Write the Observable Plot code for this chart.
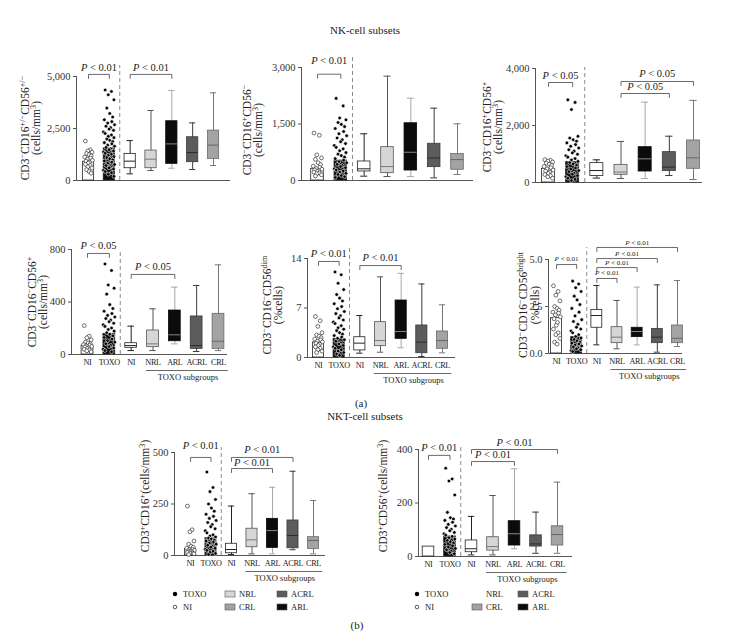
<!DOCTYPE html>
<html><head><meta charset="utf-8">
<script src="https://cdn.jsdelivr.net/npm/d3@7"></script>
<script src="https://cdn.jsdelivr.net/npm/@observablehq/plot@0.6"></script>
<style>
body{margin:0;background:#fff;}
#fig{position:relative;width:730px;height:642px;overflow:hidden;background:#fff;}
#fig svg{position:absolute;left:0;top:0;}
</style></head><body><div id="fig"></div>
<script>
// ---------- data ----------
const catLabels = ["NI","TOXO","NI","NRL","ARL","ACRL","CRL"];
const boxGroups = ["NI","NRL","ARL","ACRL","CRL"];

// Panel 1: CD3-CD16+/-CD56+/-
const nk1Ticks = [0, 2500, 5000];
const nk1Bars = [900, 1550];
const nk1NI = [1900,1480,1420,1360,1300,1240,1180,1130,1080,1020,970,930,880,840,780,720,660,600,520,430,350];
const nk1TOXO = [4350,4280,4120,3880,3480,3220,3050,2920,2830,2760,2680,2610,2540,2470,2410,2330,2260,2190,2120,2060,1990,1930,1870,1820,1760,1700,1650,1590,1530,1480,1420,1370,1310,1260,1210,1150,1100,1040,990,940,880,830,770,720,660,610,550,490,430,370,300,200];
const nk1Box = [[320,590,930,1280,1920],[480,590,1025,1440,3365],[590,800,1760,2850,4330],[530,880,1345,2080,2770],[720,1040,1700,2400,4215]];
const nk1Tests = [[0,1,"P < 0.01"],[2,4,"P < 0.01"]];
const nk1Label = ["CD3^{−}CD16^{+/−}CD56^{+/−}","(cells/mm^{3})"];

// Panel 2: CD3-CD16+CD56-
const nk2Ticks = [0, 1500, 3000];
const nk2Bars = [310, 530];
const nk2NI = [1260,1200,680,600,560,470,420,380,350,320,300,280,260,240,220,200,180,150,120];
const nk2TOXO = [2180,1980,1660,1610,1540,1490,1430,1380,1300,1240,1190,1130,1080,1030,980,930,880,840,790,740,700,660,620,580,540,500,470,430,400,370,340,310,280,250,220,190,160,130,100,80];
const nk2Box = [[115,240,310,505,1240],[105,195,370,885,2770],[105,265,750,1520,2185],[70,355,600,975,1920],[160,285,555,705,1505]];
const nk2Tests = [[0,1,"P < 0.01"]];
const nk2Label = ["CD3^{−}CD16^{+}CD56^{−}","(cells/mm^{3})"];

// Panel 3: CD3-CD16+CD56+
const nk3Ticks = [0, 2000, 4000];
const nk3Bars = [480, 715];
const nk3NI = [800,780,750,720,680,640,600,560,520,480,440,400,360,320,280,240,200,150];
const nk3TOXO = [2900,2810,2560,1620,1560,1500,1450,1390,1330,1270,1210,1150,1100,1040,990,940,890,840,790,740,700,650,600,560,510,470,420,380,330,290,240,200,150,110,70];
const nk3Box = [[155,225,420,680,795],[140,270,365,620,1440],[140,385,830,1240,2820],[245,400,540,1065,1625],[105,480,865,1475,2880]];
const nk3Tests = [[0,1,"P < 0.05"],[3,6,"P < 0.05"],[3,5,"P < 0.05"]];
const nk3Label = ["CD3^{−}CD16^{+}CD56^{+}","(cells/mm^{3})"];

// Panel 4: CD3-CD16-CD56+
const nk4Ticks = [0, 400, 800];
const nk4Bars = [68, 157];
const nk4NI = [220,140,128,112,95,88,82,76,70,66,61,56,51,46,40,35,28,20];
const nk4TOXO = [690,640,530,505,460,380,350,330,312,298,286,274,262,250,238,226,214,202,190,178,166,154,142,130,118,106,94,82,70,60,50,40,30,20];
const nk4Box = [[30,51,68,86,216],[30,56,81,183,348],[81,101,150,335,513],[23,43,68,290,526],[30,43,101,310,683]];
const nk4Tests = [[0,1,"P < 0.05"],[2,4,"P < 0.05"]];
const nk4Label = ["CD3^{−}CD16^{−}CD56^{+}","(cells/mm^{3})"];

// Panel 5: CD3-CD16-CD56dim
const nk5Ticks = [0, 7, 14];
const nk5Bars = [2.12, 2.64];
const nk5NI = [5.8,5.2,4.4,3.5,3.2,3.0,2.8,2.6,2.5,2.3,2.2,2.0,1.9,1.7,1.5,1.3,1.1,0.9,0.7];
const nk5TOXO = [12.1,11.7,10.5,9.6,8.9,8.4,8.0,7.6,7.2,6.9,6.5,6.2,5.9,5.6,5.3,5.0,4.8,4.5,4.2,4.0,3.8,3.5,3.3,3.1,2.9,2.7,2.5,2.3,2.1,1.9,1.7,1.5,1.3,1.1,0.9,0.7,0.5,0.3];
const nk5Box = [[0.61,1.0,2.03,2.87,5.94],[0.75,1.6,2.4,5.0,11.4],[1.37,2.64,3.68,8.06,11.9],[0.14,0.61,2.17,4.53,10.4],[0.66,1.23,2.4,3.68,7.45]];
const nk5Tests = [[0,1,"P < 0.01"],[2,4,"P < 0.01"]];
const nk5Label = ["CD3^{−}CD16^{−}CD56^{dim}","(%cells)"];

// Panel 6: CD3-CD16-CD56bright
const nk6Ticks = [0, 2.5, 5];
const nk6Bars = [1.88, 0.87];
const nk6NI = [3.6,3.3,3.1,2.8,2.5,2.4,2.3,2.2,2.15,2.05,1.95,1.85,1.65,1.5,1.3,1.1,1.0,0.8,0.6,0.5];
const nk6TOXO = [3.85,3.7,3.5,3.3,3.05,2.85,2.6,2.4,2.2,2.0,1.8,1.7,1.55,1.4,1.3,1.2,1.1,1.0,0.9,0.82,0.75,0.68,0.6,0.55,0.5,0.45,0.4,0.35,0.3,0.25,0.2,0.15,0.1];
const nk6Box = [[0.46,1.37,2.02,2.32,3.62],[0.25,0.55,0.87,1.40,2.82],[0.46,0.87,1.17,1.37,3.53],[0.07,0.55,0.87,1.31,3.65],[0.37,0.55,0.81,1.49,3.88]];
const nk6Tests = [[0,1,"P < 0.01"],[2,3,"P < 0.01"],[2,4,"P < 0.01"],[2,5,"P < 0.01"],[2,6,"P < 0.01"]];
const nk6Label = ["CD3^{−}CD16^{−}CD56^{bright}","(%cells)"];

// Panel 7: NKT CD3+CD16+
const nkt1Ticks = [0, 250, 500];
const nkt1Bars = [32, 84];
const nkt1NI = [240,125,115,70,55,45,40,35,30,28,25,22,20,18,15,12,10,8,5];
const nkt1TOXO = [405,330,310,272,250,230,215,200,190,180,170,160,150,140,130,120,110,100,95,90,85,80,75,70,65,60,55,50,45,40,35,30,25,20,15,10,5];
const nkt1Box = [[5,11,29,57,240],[8,40,76,130,300],[8,37,121,178,331],[28,35,97,170,409],[8,32,73,89,267]];
const nkt1Tests = [[0,1,"P < 0.01"],[2,5,"P < 0.01"],[2,4,"P < 0.01"]];
const nkt1Label = ["CD3^{+}CD16^{+}(cells/mm^{3})"];

// Panel 8: NKT CD3+CD56+
const nkt2Ticks = [0, 200, 400];
const nkt2Bars = [37, 75];
const nkt2NI = [];
const nkt2TOXO = [330,290,282,230,165,145,140,135,128,120,114,108,102,96,90,85,80,75,70,65,60,55,50,45,40,35,30,25,20,15,10];
const nkt2Box = [[6,16,29,60,150],[6,22,37,72,228],[29,41,85,132,328],[12,37,47,79,166],[12,41,82,113,278]];
const nkt2Tests = [[0,1,"P < 0.01"],[2,6,"P < 0.01"],[2,4,"P < 0.01"]];
const nkt2Label = ["CD3^{+}CD56^{+}(cells/mm^{3})"];

// ---------- styles / layout ----------
const FONT = '"Liberation Serif","DejaVu Serif","Times New Roman",serif';
const AX = "#555";
const boxFill = ["#ffffff","#d6d6d6","#0b0b0b","#5c5c5c","#a3a3a3"];
const boxStroke = ["#222","#555","#0b0b0b","#3a3a3a","#6a6a6a"];
const whiskerColor = ["#222","#555","#a8a8a8","#3a3a3a","#777"];
const medianColor = ["#222","#777","#888","#2b2b2b","#666"];
const jitA = [-0.15,0.08,-0.03,0.17,-0.09,0.03,0.13,-0.18,0.1,-0.06,0.19,-0.12,0.05,-0.01];
const jitB = [-0.2,0.1,-0.05,0.22,-0.12,0.02,0.16,-0.24,0.12,-0.08,0.25,-0.16,0.06,-0.01,0.2,-0.28];
const fmtComma = d3.format(",");
const fmtInt = d3.format("d");
const fmt1 = d3.format(".1f");

const panels = [
  {d:{ticks:nk1Ticks,bars:nk1Bars,ni:nk1NI,toxo:nk1TOXO,box:nk1Box,tests:nk1Tests,label:nk1Label},
   L:{ax:76,ex:230,c0:88,c6:213,y0:180,y1:76,max:5000,fmt:fmtComma,br:[[5100,5430],[5100,5430]],dash:5530,lx:[29,40],ly:128,pf:10.5,bottom:false}},
  {d:{ticks:nk2Ticks,bars:nk2Bars,ni:nk2NI,toxo:nk2TOXO,box:nk2Box,tests:nk2Tests,label:nk2Label},
   L:{ax:301,ex:473,c0:317,c6:457,y0:180,y1:67,max:3000,fmt:fmtComma,br:[[2822,3186]],dash:3318,lx:[251,262],ly:130,pf:10.5,bottom:false}},
  {d:{ticks:nk3Ticks,bars:nk3Bars,ni:nk3NI,toxo:nk3TOXO,box:nk3Box,tests:nk3Tests,label:nk3Label},
   L:{ax:535,ex:702,c0:548,c6:693,y0:182,y1:68,max:4000,fmt:fmtComma,br:[[3509,3754],[3544,3825],[3123,3368]],dash:4035,lx:[491,502],ly:127,pf:10.5,bottom:false}},
  {d:{ticks:nk4Ticks,bars:nk4Bars,ni:nk4NI,toxo:nk4TOXO,box:nk4Box,tests:nk4Tests,label:nk4Label},
   L:{ax:71,ex:227,c0:87,c6:218,y0:354,y1:249,max:800,fmt:fmtInt,br:[[770,830],[610,670]],dash:792,lx:[36,47],ly:302,pf:10.5,bottom:true}},
  {d:{ticks:nk5Ticks,bars:nk5Bars,ni:nk5NI,toxo:nk5TOXO,box:nk5Box,tests:nk5Tests,label:nk5Label},
   L:{ax:307,ex:455,c0:318,c6:442,y0:357,y1:258,max:14,fmt:fmtInt,br:[[13.58,14.7],[13.0,14.14]],dash:15.4,lx:[271,282],ly:305,pf:10.5,bottom:true}},
  {d:{ticks:nk6Ticks,bars:nk6Bars,ni:nk6NI,toxo:nk6TOXO,box:nk6Box,tests:nk6Tests,label:nk6Label},
   L:{ax:548,ex:682,c0:556,c6:677,y0:353,y1:259,max:5,fmt:fmt1,br:[[4.73,5.05],[3.99,4.28],[4.57,4.81],[5.05,5.32],[5.64,5.90]],dash:5.64,lx:[527,539],ly:305,pf:7,bottom:true}},
  {d:{ticks:nkt1Ticks,bars:nkt1Bars,ni:nkt1NI,toxo:nkt1TOXO,box:nkt1Box,tests:nkt1Tests,label:nkt1Label},
   L:{ax:174,ex:325,c0:190,c6:313,y0:555,y1:452,max:500,fmt:fmtInt,br:[[476,534],[476,515],[422,449]],dash:524,lx:[149],ly:496,pf:10.5,bottom:true}},
  {d:{ticks:nkt2Ticks,bars:nkt2Bars,ni:nkt2NI,toxo:nkt2TOXO,box:nkt2Box,tests:nkt2Tests,label:nkt2Label},
   L:{ax:418,ex:572,c0:428,c6:557,y0:556,y1:449,max:400,fmt:fmtInt,br:[[378,407],[400,426],[355,381]],dash:407,lx:[387],ly:496,pf:10.5,bottom:true}}
];

const fig = document.getElementById("fig");

function drawPanel(L, D) {
  const step = (L.c6 - L.c0) / 6;
  const xd = [(L.ax - L.c0) / step, 6 + (L.ex - L.c6) / step];
  const hw = 0.27, cw = 0.15;
  const bars = D.bars.map((v, i) => ({i, v}));
  const ni = D.ni.map((v, k) => ({x: 0 + jitA[k % jitA.length], y: v}));
  const tx = D.toxo.map((v, k) => ({x: 1 + jitB[k % jitB.length], y: v}));
  const boxes = D.box.map((b, k) => ({i: k + 2, min: b[0], q1: b[1], med: b[2], q3: b[3], max: b[4],
    fill: boxFill[k], bs: boxStroke[k], wc: whiskerColor[k], mc: medianColor[k]}));
  const caps = boxes.flatMap(b => [{i: b.i, y: b.min, c: b.wc}, {i: b.i, y: b.max, c: b.wc}]);
  const drop = 4 * L.max / (L.y0 - L.y1);
  const br = D.tests.flatMap((t, k) => {
    const lv = L.br[k][0];
    return [{k, x: t[0], y: lv - drop}, {k, x: t[0], y: lv}, {k, x: t[1], y: lv}, {k, x: t[1], y: lv - drop}];
  });
  const brText = D.tests.map((t, k) => ({x: (t[0] + t[1]) / 2, y: L.br[k][1], s: t[2]}));
  const marks = [
    Plot.ruleY([0], {stroke: AX, strokeWidth: 1}),
    Plot.ruleX([xd[0]], {y1: 0, y2: L.max, stroke: AX, strokeWidth: 1}),
    Plot.axisY({ticks: D.ticks, tickFormat: L.fmt, tickSize: 3, tickPadding: 3, label: null, fontSize: 10.5, stroke: AX, fill: "#333"}),
    Plot.ruleX([1.5], {y1: 0, y2: L.dash, stroke: "#8a8a8a", strokeDasharray: "4,3", strokeWidth: 1}),
    Plot.rect(bars, {x1: d => d.i - hw, x2: d => d.i + hw, y1: 0, y2: "v", fill: d => d.i === 0 ? "#ffffff" : "#0b0b0b", stroke: "#222", strokeWidth: 0.8}),
    Plot.dot(ni, {x: "x", y: "y", r: 1.9, fill: "#ffffff", stroke: "#333", strokeWidth: 0.7}),
    Plot.dot(tx, {x: "x", y: "y", r: 1.8, fill: "#000000", stroke: "#ffffff", strokeWidth: 0.6}),
    Plot.ruleX(boxes, {x: "i", y1: "min", y2: "max", stroke: "wc", strokeWidth: 1}),
    Plot.ruleY(caps, {y: "y", x1: d => d.i - cw, x2: d => d.i + cw, stroke: "c", strokeWidth: 1}),
    Plot.rect(boxes, {x1: d => d.i - hw, x2: d => d.i + hw, y1: "q1", y2: "q3", fill: "fill", stroke: "bs", strokeWidth: 0.8}),
    Plot.ruleY(boxes, {y: "med", x1: d => d.i - hw, x2: d => d.i + hw, stroke: "mc", strokeWidth: 1}),
    Plot.line(br, {x: "x", y: "y", z: "k", stroke: "#444", strokeWidth: 0.8}),
    Plot.text(brText, {x: "x", y: "y", text: "s", fontSize: L.pf, fill: "#222"})
  ];
  if (L.bottom) {
    marks.push(
      Plot.axisX({ticks: [0,1,2,3,4,5,6], tickFormat: i => catLabels[i], tickSize: 0, tickPadding: 5, fontSize: 8.2, fill: "#222", label: null}),
      Plot.ruleY([0], {x1: 2.7, x2: 6.45, dy: 16, stroke: "#444", strokeWidth: 0.8}),
      Plot.text(["TOXO subgroups"], {x: 4.6, y: 0, dy: 23, fontSize: 8.5, fill: "#222"})
    );
  }
  const svg = Plot.plot({
    width: 730, height: 642,
    marginLeft: L.ax, marginRight: 730 - L.ex, marginTop: L.y1, marginBottom: 642 - L.y0,
    x: L.bottom ? {domain: xd} : {domain: xd, axis: null},
    y: {domain: [0, L.max]},
    color: {type: "identity"},
    style: {fontFamily: FONT, background: "transparent", overflow: "visible"},
    marks
  });
  const root = d3.select(svg);
  root.selectAll("text").each(function () {
    const s = this.textContent;
    if (s.startsWith("P < ") && this.children.length === 0) {
      const sel = d3.select(this);
      sel.text(null);
      sel.append("tspan").attr("font-style", "italic").text("P");
      sel.append("tspan").text(s.slice(1));
    }
    if (catLabels.includes(s) && this.closest('g[aria-label="x-axis tick label"]')) {
      d3.select(this).attr("letter-spacing", -0.35);
    }
  });
  fig.appendChild(svg);
}

panels.forEach(p => drawPanel(p.L, p.d));

// ---------- overlay texts ----------
const ov = d3.select(fig).append("svg").attr("width", 730).attr("height", 642)
  .attr("font-family", FONT).attr("fill", "#222");

function rich(sel, str, size) {
  const re = /([^^]+)|\^\{([^}]*)\}/g;
  let m, sup = false;
  while ((m = re.exec(str))) {
    if (m[1] !== undefined) {
      const t = sel.append("tspan").text(m[1]);
      if (sup) t.attr("dy", size * 0.38);
      sup = false;
    } else {
      sel.append("tspan").text(m[2]).attr("font-size", size * 0.72).attr("dy", sup ? 0 : -size * 0.38);
      sup = true;
    }
  }
}

panels.forEach(p => {
  p.d.label.forEach((line, j) => {
    const t = ov.append("text")
      .attr("transform", `translate(${p.L.lx[j]},${p.L.ly}) rotate(-90)`)
      .attr("text-anchor", "middle").attr("font-size", 11.5);
    rich(t, line, 11.5);
  });
});

const titles = [
  ["NK-cell subsets", 365, 34, 11],
  ["(a)", 361, 407, 11],
  ["NKT-cell subsets", 365, 420, 11],
  ["(b)", 357, 629, 11]
];
titles.forEach(([s, x, y, f]) => ov.append("text").attr("x", x).attr("y", y).attr("text-anchor", "middle").attr("font-size", f).text(s));

// legends
const legendItems = [
  {x0: 175, sw: 230, sw2: 282, nrlSwatch: true},
  {x0: 417, sw: 477, sw2: 523, nrlSwatch: false}
];
const legFill = {NRL: "#d6d6d6", CRL: "#a3a3a3", ACRL: "#5c5c5c", ARL: "#0b0b0b"};
legendItems.forEach(g => {
  const r1 = 594, r2 = 607;
  ov.append("circle").attr("cx", g.x0).attr("cy", r1).attr("r", 2.2).attr("fill", "#000");
  ov.append("text").attr("x", g.x0 + 8).attr("y", r1 + 3).attr("font-size", 8.5).text("TOXO");
  ov.append("circle").attr("cx", g.x0).attr("cy", r2).attr("r", 1.8).attr("fill", "#fff").attr("stroke", "#333").attr("stroke-width", 0.8);
  ov.append("text").attr("x", g.x0 + 8).attr("y", r2 + 3).attr("font-size", 8.5).text("NI");
  const sw = (x, y, k, show) => {
    if (show) ov.append("rect").attr("x", x - 5).attr("y", y - 3).attr("width", 10).attr("height", 6)
      .attr("fill", legFill[k]).attr("stroke", "#555").attr("stroke-width", 0.6);
    ov.append("text").attr("x", x + 9).attr("y", y + 3).attr("font-size", 8.5).text(k);
  };
  sw(g.sw, r1, "NRL", g.nrlSwatch);
  sw(g.sw, r2, "CRL", true);
  sw(g.sw2, r1, "ACRL", true);
  sw(g.sw2, r2, "ARL", true);
});
</script>
</body></html>
